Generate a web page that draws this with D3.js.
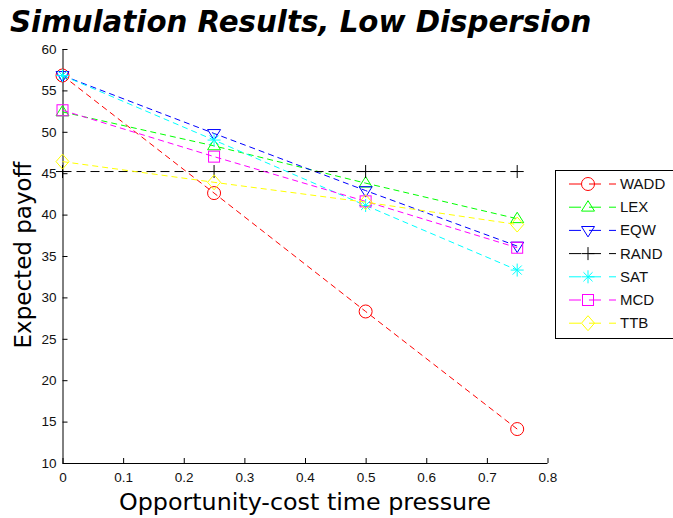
<!DOCTYPE html>
<html>
<head>
<meta charset="utf-8">
<script src="https://cdn.jsdelivr.net/npm/d3@7"></script>
<style>
  html, body { margin: 0; padding: 0; background: #fff; }
  svg { display: block; }
</style>
</head>
<body>
<svg id="chart" width="673" height="518"></svg>
<script>
// Time-pressure levels on the x axis
const pressure = [0, 0.25, 0.5, 0.75];

// Expected payoff for each strategy at each pressure level
const seriesNames = ["WADD", "LEX", "EQW", "RAND", "SAT", "MCD", "TTB"];
const WADD = [56.8, 42.6, 28.3, 14.1];
const LEX  = [52.4, 48.3, 43.8, 39.5];
const EQW  = [56.8, 49.8, 42.9, 36.2];
const RAND = [45.2, 45.2, 45.2, 45.2];
const SAT  = [56.8, 49.0, 41.1, 33.3];
const MCD  = [52.6, 47.0, 41.6, 36.0];
const TTB  = [46.4, 43.9, 41.5, 38.8];

const xTicks = [0, 0.1, 0.2, 0.3, 0.4, 0.5, 0.6, 0.7, 0.8];
const yTicks = [10, 15, 20, 25, 30, 35, 40, 45, 50, 55, 60];

const seriesValues = { WADD, LEX, EQW, RAND, SAT, MCD, TTB };
const colors = { WADD: "#ff0000", LEX: "#00ff00", EQW: "#0000ff", RAND: "#000000",
                 SAT: "#00ffff", MCD: "#ff00ff", TTB: "#ffff00" };
const markers = { WADD: "circle", LEX: "triUp", EQW: "triDown", RAND: "plus",
                  SAT: "star", MCD: "square", TTB: "diamond" };

const svg = d3.select("#chart");
const plotLeft = 62.5, plotRight = 547.5, plotTop = 49, plotBottom = 463;

const x = d3.scaleLinear().domain([0, 0.8]).range([plotLeft, plotRight]);
const y = d3.scaleLinear().domain([10, 60]).range([plotBottom, plotTop]);

// Title
svg.append("text")
  .attr("x", 10).attr("y", 32)
  .attr("font-family", "DejaVu Sans, Verdana, sans-serif")
  .attr("font-weight", "bold").attr("font-style", "italic")
  .attr("font-size", 29.3)
  .text("Simulation Results, Low Dispersion");

// Axes (ticks drawn inward)
const tickFont = "Liberation Sans, Arial, sans-serif";
const labelFont = "DejaVu Sans, Verdana, sans-serif";
const xAxis = svg.append("g").attr("transform", `translate(0,${plotBottom})`)
  .call(d3.axisBottom(x).tickValues(xTicks).tickSize(-5).tickPadding(9)
        .tickFormat(d => String(+d.toFixed(1))));
const yAxis = svg.append("g").attr("transform", `translate(${plotLeft},0)`)
  .call(d3.axisLeft(y).tickValues(yTicks).tickSize(-5).tickPadding(6));
[xAxis, yAxis].forEach(g => {
  g.select(".domain").attr("stroke", "#000").attr("stroke-width", 1);
  g.selectAll(".tick line").attr("stroke", "#000");
  g.selectAll(".tick text").attr("font-family", tickFont).attr("font-size", 13.5)
    .attr("fill", "#111");
});
// No outer tick stubs past the axis ends
xAxis.select(".domain").attr("d", `M${plotLeft},0.5H${plotRight}`);
yAxis.select(".domain").attr("d", `M0.5,${plotTop}V${plotBottom}`);

// Axis titles
svg.append("text")
  .attr("x", 305).attr("y", 510)
  .attr("text-anchor", "middle")
  .attr("font-family", labelFont).attr("font-size", 23.8)
  .text("Opportunity-cost time pressure");
svg.append("text")
  .attr("transform", "translate(31,255) rotate(-90)")
  .attr("text-anchor", "middle")
  .attr("font-family", labelFont).attr("font-size", 23)
  .text("Expected payoff");

// Marker shapes
function drawMarker(g, type, cx, cy, color) {
  const s = 6.5;
  const common = el => el.attr("fill", "none").attr("stroke", color).attr("stroke-width", 1);
  if (type === "circle") {
    common(g.append("circle").attr("cx", cx).attr("cy", cy).attr("r", s));
  } else if (type === "triUp") {
    common(g.append("path").attr("d", `M${cx},${cy - s}L${cx + s},${cy + s * 0.6}L${cx - s},${cy + s * 0.6}Z`));
  } else if (type === "triDown") {
    common(g.append("path").attr("d", `M${cx},${cy + s}L${cx + s},${cy - s * 0.6}L${cx - s},${cy - s * 0.6}Z`));
  } else if (type === "plus") {
    common(g.append("path").attr("d", `M${cx - s},${cy}H${cx + s}M${cx},${cy - s}V${cy + s}`));
  } else if (type === "star") {
    const d = s * 0.7;
    common(g.append("path").attr("d",
      `M${cx - s},${cy}H${cx + s}M${cx},${cy - s}V${cy + s}M${cx - d},${cy - d}L${cx + d},${cy + d}M${cx - d},${cy + d}L${cx + d},${cy - d}`));
  } else if (type === "square") {
    common(g.append("rect").attr("x", cx - 5.5).attr("y", cy - 5.5).attr("width", 11).attr("height", 11));
  } else if (type === "diamond") {
    common(g.append("path").attr("d", `M${cx},${cy - s - 1}L${cx + s},${cy}L${cx},${cy + s + 1}L${cx - s},${cy}Z`));
  }
}

// Series lines and markers
const line = d3.line().x((d, i) => x(pressure[i])).y(d => y(d));
const plot = svg.append("g");
seriesNames.forEach(name => {
  const vals = seriesValues[name];
  const g = plot.append("g");
  g.append("path").datum(vals).attr("d", line)
    .attr("fill", "none").attr("stroke", colors[name]).attr("stroke-width", 1)
    .attr("stroke-dasharray", name === "RAND" ? "9,5" : "6,4");
  vals.forEach((v, i) => drawMarker(g, markers[name], x(pressure[i]), y(v), colors[name]));
});

// Legend
const lg = svg.append("g");
lg.append("rect").attr("x", 555.5).attr("y", 170.5).attr("width", 125).attr("height", 168)
  .attr("fill", "#fff").attr("stroke", "#000").attr("stroke-width", 1);
seriesNames.forEach((name, i) => {
  const cy = 184 + i * 23.2;
  lg.append("line").attr("x1", 569).attr("x2", 616).attr("y1", cy).attr("y2", cy)
    .attr("stroke", colors[name]).attr("stroke-width", 1)
    .attr("stroke-dasharray", "12,8");
  drawMarker(lg, markers[name], 588, cy, colors[name]);
  lg.append("text").attr("x", 620).attr("y", cy + 5)
    .attr("font-family", tickFont).attr("font-size", 15).attr("fill", "#111")
    .text(name);
});
</script>
</body>
</html>
